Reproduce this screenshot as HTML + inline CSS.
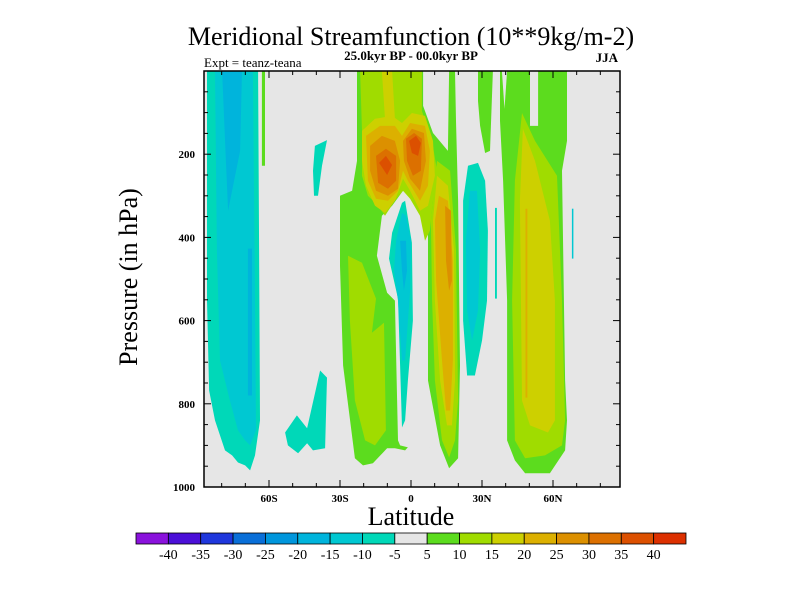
<!DOCTYPE html>
<html><head><meta charset="utf-8"><style>
html,body{margin:0;padding:0;background:#fff;}
svg text{font-family:"Liberation Serif",serif;fill:#000;}
</style></head><body>
<svg id="chart" width="800" height="600" viewBox="0 0 800 600" xmlns="http://www.w3.org/2000/svg">
<text x="411" y="45" font-size="26" text-anchor="middle">Meridional Streamfunction (10**9kg/m-2)</text>
<text x="411" y="60" font-size="13" font-weight="bold" text-anchor="middle">25.0kyr BP - 00.0kyr BP</text>
<text x="204" y="67" font-size="13">Expt = teanz-teana</text>
<text x="618" y="62" font-size="13" font-weight="bold" text-anchor="end">JJA</text>
<g id="plot"></g>
<g id="axes"></g>
<text x="0" y="0" font-size="26" text-anchor="middle" transform="translate(137,277) rotate(-90)">Pressure (in hPa)</text>
<text x="411" y="525" font-size="26" text-anchor="middle">Latitude</text>
<g id="cbar"></g>
</svg>
<script>
const levelColors=["#8a12dc","#4b0fd8","#1f37dc","#0a6fd8","#0096dc","#00b4dc","#00c8d2","#00d8b8","#e6e6e6","#5cdc1e","#a0dc00","#cdd000","#dcb000","#dc9000","#dc7000","#dc5000","#dc3000"];
const levelLabels=["-40","-35","-30","-25","-20","-15","-10","-5","5","10","15","20","25","30","35","40"];
const yTicks=[200,400,600,800,1000];
const xTicks=[-60,-30,0,30,60];
const xTickLabels=["60S","30S","0","30N","60N"];
// contour regions: level index + [lat, pressure] vertices
const regionLevels=[7,6,5,5,9,7,7,9,8,10,10,11,11,12,13,13,14,14,15,15,7,6,5,10,11,12,13,7,6,7,9,9,8,8,10,11,12,6];
const regionShapes=[
[[-86.2,0],[-64.6,0],[-64.2,432],[-63.8,840],[-65.9,924],[-68,960],[-70.1,948],[-73.1,941],[-75.6,924],[-78.6,912],[-82.8,840],[-85.3,768],[-86.2,552]],
[[-82.8,0],[-66.8,0],[-65.9,552],[-65.5,864],[-68,900],[-70.1,888],[-73.1,864],[-76.5,792],[-80.7,696],[-82,432]],
[[-79.8,0],[-71.4,0],[-72.2,192],[-77.3,336],[-78.2,216]],
[[-68.9,427],[-67.2,427],[-67.2,780],[-68.9,780]],
[[-63,0],[-61.7,0],[-61.7,228],[-63,228]],
[[-40.6,180],[-35.5,166],[-37.6,228],[-39.3,300],[-41,300],[-41.4,240]],
[[-53.2,869],[-48.2,828],[-43.9,859],[-38.4,720],[-35.5,737],[-36.3,907],[-41.4,912],[-43.9,895],[-47.7,919],[-52,900]],
[[-22.8,0],[5.1,0],[5.1,84],[9.3,149],[15.6,192],[16.1,0],[18.6,0],[19,120],[19.9,312],[20.7,708],[19.9,931],[16.1,955],[12.3,900],[7.2,744],[1.3,888],[-2.5,912],[-6.8,907],[-10.1,907],[-16.1,943],[-20.3,948],[-23.7,931],[-28.7,708],[-30,468],[-30,300],[-24.9,288],[-22.8,216]],
[[-3.4,288],[-8,324],[-12.3,348],[-14.4,444],[-10.1,533],[-6.8,552],[-5.5,888],[-4.6,900],[3.8,912],[10.6,900],[7.2,792],[7.2,360],[1.7,312]],
[[-26.6,444],[-20.7,461],[-14.8,547],[-16.5,629],[-11.4,605],[-10.6,864],[-15.2,900],[-19.4,888],[-23.7,792],[-25.8,600]],
[[-21.5,0],[4.6,0],[4.6,96],[8.9,168],[11,240],[9.3,312],[8,384],[5.9,408],[3.8,348],[-0.4,307],[-3.4,288],[-6.8,312],[-11,348],[-13.9,324],[-18.2,300],[-20.7,252],[-20.7,144]],
[[-20.7,144],[-15.2,115],[-8,108],[-3.8,125],[0.4,101],[5.9,108],[9.3,168],[10.1,252],[7.2,324],[3.8,336],[-0.4,288],[-3.4,259],[-6.8,312],[-11,341],[-15.2,324],[-19,276],[-20.7,216]],
[[-12.3,0],[-8,0],[-6.8,115],[-11,115]],
[[-19,156],[-13.1,132],[-6.8,132],[-3.8,156],[-0.4,125],[5.9,132],[8,192],[7.2,276],[3.8,312],[-1.3,264],[-3.4,240],[-5.5,288],[-9.7,312],[-14.8,307],[-18.2,264]],
[[-17.3,180],[-12.3,156],[-6.8,168],[-4.6,216],[-5.5,283],[-9.7,300],[-14.8,288],[-17.3,240]],
[[-3.4,168],[0.4,139],[5.5,149],[6.3,216],[3.8,288],[-0.4,259],[-3,216]],
[[-14.8,204],[-10.6,187],[-6.3,204],[-6.3,264],[-9.7,283],[-13.9,269]],
[[-2.1,163],[1.3,149],[4.6,163],[4.2,240],[0.8,252],[-1.7,216]],
[[-13.5,221],[-10.6,204],[-8,226],[-10.1,250]],
[[-0.8,168],[2.1,156],[4.2,173],[3,204],[0.4,197]],
[[-3.8,317],[-2.5,312],[0.4,413],[0.8,600],[-1.3,744],[-2.5,840],[-3.8,857],[-4.6,708],[-5.5,547],[-9.3,451],[-8,389]],
[[-3.8,341],[-6.3,408],[-7.2,480],[-5.5,552],[-3.8,696],[-2.5,696],[-0.4,528],[0,408],[-2.1,348]],
[[-4.6,408],[-3.8,480],[-3,528],[-1.7,480],[-2.1,408]],
[[11,216],[16.5,240],[19,432],[19.9,792],[18.6,888],[16.1,929],[13.1,888],[10.1,744],[8.9,552],[8.4,360]],
[[11,252],[15.6,276],[18.2,432],[18.6,744],[17.3,852],[15.2,852],[12.3,744],[10.1,552],[9.3,360]],
[[11.8,300],[15.6,312],[17.7,456],[17.7,696],[16.5,816],[14.8,816],[13.1,696],[10.6,504],[10.1,360]],
[[14.4,324],[16.9,336],[17.3,504],[16.1,528],[14.8,456]],
[[24.1,228],[28.3,221],[31.3,264],[32.5,384],[32.1,552],[30,648],[27,732],[23.7,732],[22,600],[22,312]],
[[24.9,288],[27.9,288],[29.2,432],[28.3,576],[25.8,648],[23.7,576],[23.2,408]],
[[35.5,329],[36.3,329],[36.3,547],[35.5,547]],
[[28.3,0],[34.6,0],[33.4,192],[31.3,197],[29.2,132],[28.3,72]],
[[37.6,0],[65.9,0],[65.9,168],[63.8,240],[65.1,744],[65.9,840],[65.1,912],[58.7,967],[48.2,967],[43.9,936],[40.6,888],[40.6,552],[38.9,264],[37.6,120]],
[[38.4,0],[40.6,0],[39.5,91]],
[[50.3,0],[53.7,0],[53.7,132],[50.3,132]],
[[46.9,101],[52.4,168],[61.7,252],[63.8,552],[65.1,840],[63.8,900],[56.6,924],[48.2,931],[43.9,888],[42.7,552],[43.9,264]],
[[47.3,139],[52.4,216],[58.7,360],[60.8,552],[60.8,840],[57.9,869],[50.3,852],[46.9,792],[46,312]],
[[48.4,331],[49.2,331],[49.2,785],[48.4,785]],
[[68,331],[68.6,331],[68.6,451],[68,451]]
];
const NS="http://www.w3.org/2000/svg";
const X0=204,X1=620,Y0=71,Y1=487;
function xs(lat){return 411+lat*71/30;}
function ys(p){return Y0+p*(Y1-Y0)/1000;}
function mk(tag,attrs,parent){const e=document.createElementNS(NS,tag);for(const k in attrs)e.setAttribute(k,attrs[k]);parent.appendChild(e);return e;}
const plot=document.getElementById('plot');
const clip=mk('clipPath',{id:'pc'},plot);
mk('rect',{x:X0,y:Y0,width:X1-X0,height:Y1-Y0},clip);
const bg=mk('rect',{x:X0,y:Y0,width:X1-X0,height:Y1-Y0,fill:'#e6e6e6'},plot);


const g=mk('g',{'clip-path':'url(#pc)'},plot);
regionShapes.forEach((shape,i)=>{
  const pts=shape.map(v=>xs(v[0]).toFixed(1)+','+ys(v[1]).toFixed(1)).join(' ');
  const pg=mk('polygon',{points:pts,fill:levelColors[regionLevels[i]]},g);
  
  
});
const ax=document.getElementById('axes');
const fr=mk('rect',{x:X0,y:Y0,width:X1-X0,height:Y1-Y0,fill:'none',stroke:'#000','stroke-width':1.5},ax);


for(let p=50;p<1000;p+=50){
  const len=(p%200===0)?7:4;
  mk('line',{x1:X0,x2:X0+len,y1:ys(p),y2:ys(p),stroke:'#000','stroke-width':1},ax);
  mk('line',{x1:X1,x2:X1-len,y1:ys(p),y2:ys(p),stroke:'#000','stroke-width':1},ax);
}
yTicks.forEach(p=>{
  const t=mk('text',{x:195,y:ys(p)+4,'font-size':11,'font-weight':'bold','text-anchor':'end'},ax);
  t.textContent=p;
  
  
});
for(let lat=-80;lat<=80;lat+=10){
  const len=(lat%30===0)?7:4;
  mk('line',{x1:xs(lat),x2:xs(lat),y1:Y1,y2:Y1-len,stroke:'#000','stroke-width':1},ax);
  mk('line',{x1:xs(lat),x2:xs(lat),y1:Y0,y2:Y0+len,stroke:'#000','stroke-width':1},ax);
}
xTicks.forEach((lat,i)=>{
  const t=mk('text',{x:xs(lat),y:502,'font-size':11,'font-weight':'bold','text-anchor':'middle'},ax);
  t.textContent=xTickLabels[i];
  
  
});
const cb=document.getElementById('cbar');
const cbX=136,cbW=550,cbY=533,cbH=11,bw=cbW/levelColors.length;
levelColors.forEach((c,i)=>{
  const r=mk('rect',{x:cbX+i*bw,y:cbY,width:bw,height:cbH,fill:c,stroke:'#000','stroke-width':0.8},cb);
  
  
});
levelLabels.forEach((l,i)=>{
  const t=mk('text',{x:cbX+(i+1)*bw,y:559,'font-size':14,'text-anchor':'middle'},cb);
  t.textContent=l;
  
  
});
</script>
</body></html>
